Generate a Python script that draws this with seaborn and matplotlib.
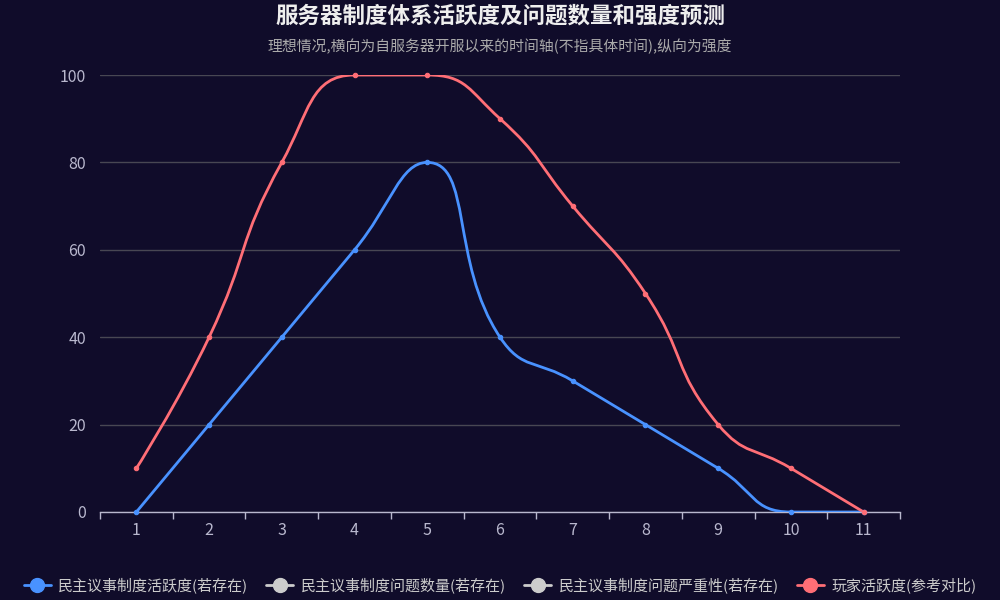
import numpy as np
import pandas as pd
import seaborn as sns
import matplotlib.pyplot as plt
from matplotlib.path import Path
from matplotlib.patches import PathPatch
from matplotlib.lines import Line2D

# 数据
periods = list(range(1, 12))
democracy_activity = [0, 20, 40, 60, 80, 40, 30, 20, 10, 0, 0]
player_activity = [10, 40, 80, 100, 100, 90, 70, 50, 20, 10, 0]
legend_names = ["民主议事制度活跃度(若存在)", "民主议事制度问题数量(若存在)",
                "民主议事制度问题严重性(若存在)", "玩家活跃度(参考对比)"]
legend_colors = ["#4992ff", "#cccccc", "#cccccc", "#ff6e76"]

BG = "#100c2a"
AXIS = "#B9B8CE"

sns.set_style("dark")
plt.rcParams["font.family"] = ["Noto Sans CJK SC", "DejaVu Sans"]

fig = plt.figure(figsize=(10, 6), dpi=100, facecolor=BG)
ax = fig.add_axes([0.1, 1 - 512 / 600, 0.8, (512 - 75) / 600])
ax.set_facecolor(BG)
ax.set_xlim(0.5, 11.5)
ax.set_ylim(0, 100)


def smooth_path(xs, ys, smooth=0.5):
    # echarts 风格的平滑曲线, 在像素空间计算控制点
    pts = ax.transData.transform(np.column_stack([xs, ys]))
    n = len(pts)
    verts = [tuple(pts[0])]
    codes = [Path.MOVETO]
    cp0 = pts[0].copy()
    for i in range(1, n):
        x, y = pts[i]
        px, py = pts[i - 1]
        if i == n - 1:
            cp1 = np.array([x, y])
            nxt_cp0 = np.array([x, y])
        else:
            nx, ny = pts[i + 1]
            vx, vy = nx - px, ny - py
            l0 = np.hypot(x - px, y - py)
            l1 = np.hypot(nx - x, ny - y)
            r = l1 / (l0 + l1)
            ncx = x + vx * smooth * r
            ncy = y + vy * smooth * r
            ncx = min(max(ncx, min(nx, x)), max(nx, x))
            ncy = min(max(ncy, min(ny, y)), max(ny, y))
            vx, vy = ncx - x, ncy - y
            c1x = x - vx * l0 / l1
            c1y = y - vy * l0 / l1
            c1x = min(max(c1x, min(px, x)), max(px, x))
            c1y = min(max(c1y, min(py, y)), max(py, y))
            vx, vy = x - c1x, y - c1y
            ncx = x + vx * l1 / l0
            ncy = y + vy * l1 / l0
            cp1 = np.array([c1x, c1y])
            nxt_cp0 = np.array([ncx, ncy])
        verts += [tuple(cp0), tuple(cp1), (x, y)]
        codes += [Path.CURVE4] * 3
        cp0 = nxt_cp0
    inv = ax.transData.inverted()
    return Path(inv.transform(np.array(verts)), codes)


for vals, color in [(democracy_activity, "#4992ff"), (player_activity, "#ff6e76")]:
    ax.add_patch(PathPatch(smooth_path(periods, vals), facecolor="none",
                           edgecolor=color, lw=2, zorder=3))
    df = pd.DataFrame({"x": periods, "y": vals})
    sns.scatterplot(data=df, x="x", y="y", ax=ax, color=color, s=10,
                    edgecolor=color, linewidth=0.8, zorder=4, clip_on=False)

ax.set_xlim(0.5, 11.5)
ax.set_ylim(0, 100)
ax.set_xlabel("")
ax.set_ylabel("")

ax.set_xticks(periods)
ax.set_xticks(np.arange(0.5, 12, 1), minor=True)
ax.set_yticks(range(0, 101, 20))
ax.tick_params(axis="x", which="major", bottom=True, length=0, labelsize=11.5,
               labelcolor=AXIS, pad=7)
ax.tick_params(axis="x", which="minor", bottom=True, length=5, color=AXIS, width=1)
ax.tick_params(axis="y", length=0, labelsize=11.5, labelcolor=AXIS, pad=10)
ax.grid(axis="y", color="#484753", lw=1)
ax.grid(axis="x", visible=False)
for s in ["top", "right", "left"]:
    ax.spines[s].set_visible(False)
ax.spines["bottom"].set_color(AXIS)
ax.spines["bottom"].set_linewidth(1)

fig.text(0.5, 0.973, "服务器制度体系活跃度及问题数量和强度预测", ha="center", va="center",
         color="#eeeeee", fontsize=16.2, fontweight="bold")
fig.text(0.5, 0.922, "理想情况,横向为自服务器开服以来的时间轴(不指具体时间),纵向为强度",
         ha="center", va="center", color="#aaaaaa", fontsize=10.7)

handles = [Line2D([0], [0], color=c, lw=2, marker="o", markersize=10,
                  markerfacecolor=c, markeredgecolor=c) for c in legend_colors]
leg = fig.legend(handles, legend_names, loc="center", bbox_to_anchor=(0.5, 0.025),
                 ncol=4, frameon=False, fontsize=10.8, handlelength=1.8,
                 handletextpad=0.5, columnspacing=1.2)
for t in leg.get_texts():
    t.set_color("#cccccc")

fig.savefig("out.png", dpi=100, facecolor=BG)
